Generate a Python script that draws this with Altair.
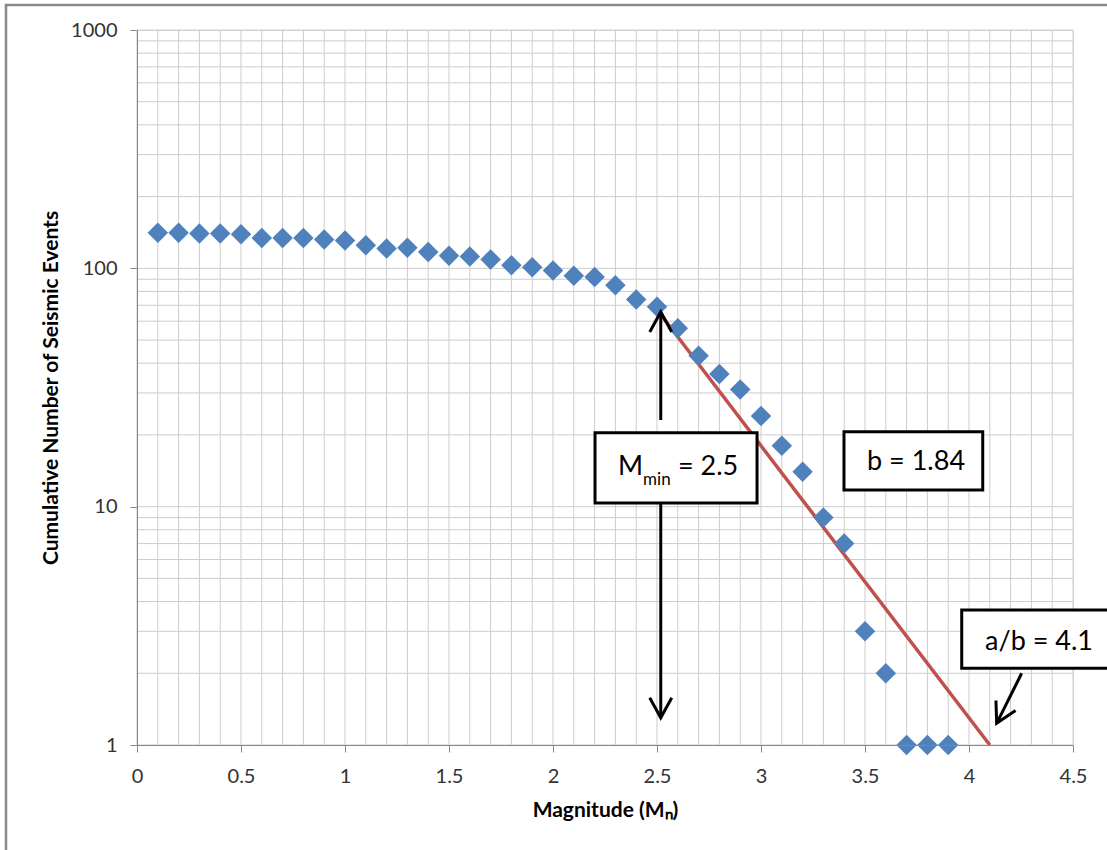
import altair as alt
import pandas as pd

# ---------------- data ----------------
magnitudes = [0.1, 0.2, 0.3, 0.4, 0.5, 0.6, 0.7, 0.8, 0.9, 1.0,
              1.1, 1.2, 1.3, 1.4, 1.5, 1.6, 1.7, 1.8, 1.9, 2.0,
              2.1, 2.2, 2.3, 2.4, 2.5, 2.6, 2.7, 2.8, 2.9, 3.0,
              3.1, 3.2, 3.3, 3.4, 3.5, 3.6, 3.7, 3.8, 3.9]
cum_counts = [141, 141, 140, 140, 139, 134, 134, 134, 132, 131,
              125, 121, 122, 117, 113, 112, 109, 103, 101, 98,
              93, 92, 85, 74, 69, 56, 43, 36, 31, 24,
              18, 14, 9, 7, 3, 2, 1, 1, 1]

fit_x = [2.5, 4.1]
fit_y = [67, 1]

x_tick_values = [0, 0.5, 1, 1.5, 2, 2.5, 3, 3.5, 4, 4.5]
y_tick_values = [1, 10, 100, 1000]
x_grid = [round(i * 0.1, 1) for i in range(0, 46)]
y_grid = [m * d for d in (1, 10, 100) for m in range(1, 10)] + [1000]

# annotation boxes (data coordinates)
box_x1 = [2.202, 3.399, 3.965]
box_x2 = [2.981, 4.066, 4.702]
box_y1 = [20.4, 20.6, 3.685]
box_y2 = [10.36, 11.75, 2.098]

# annotation texts
txt_x = [2.313, 2.433, 2.601, 3.510, 4.077]
txt_y = [13.58, 12.33, 13.58, 14.25, 2.504]
txt_s = ["M", "min", "= 2.5", "b = 1.84", "a/b = 4.1"]
txt_f = [27, 17, 27, 27, 27]

# arrow shafts
arr_x1 = [2.518, 2.518, 4.253]
arr_y1 = [23.1, 10.36, 2.0]
arr_x2 = [2.518, 2.518, 4.133]
arr_y2 = [65.6, 1.30, 1.233]
arr_ang = [0, 180, 207]

W, H = 936, 715
FONT = "Lato"

xs = alt.Scale(domain=[0, 4.5], nice=False, zero=False)
ys = alt.Scale(type="log", domain=[1, 1000], nice=False)

x_axis = alt.Axis(
    values=x_tick_values, format="~g", grid=False, title="Magnitude (Mₙ)",
    domainColor="#868686", tickColor="#868686", tickSize=7, zindex=1,
    labelFont=FONT, labelFontSize=20, labelColor="#333333", labelPadding=14,
    titleFont=FONT, titleFontSize=21, titleFontWeight="bold", titleColor="#000000",
    titlePadding=13, labelFlush=False)
y_axis = alt.Axis(
    values=y_tick_values, format="d", grid=False,
    title="Cumulative Number of Seismic Events",
    domainColor="#868686", tickColor="#868686", tickSize=7, zindex=1,
    labelFont=FONT, labelFontSize=20, labelColor="#333333", labelPadding=13,
    titleFont=FONT, titleFontSize=21, titleFontWeight="bold", titleColor="#000000",
    titlePadding=9, labelFlush=False)


def X(f):
    return alt.X(f, scale=xs, axis=x_axis)


def Y(f):
    return alt.Y(f, scale=ys, axis=y_axis)


df = pd.DataFrame({"m": magnitudes, "n": cum_counts})
fit = pd.DataFrame({"m": fit_x, "n": fit_y})
gx = pd.DataFrame({"g": x_grid})
gy = pd.DataFrame({"g": y_grid})
boxes = pd.DataFrame({"x1": box_x1, "x2": box_x2, "y1": box_y1, "y2": box_y2})
texts = pd.DataFrame({"x": txt_x, "y": txt_y, "t": txt_s, "f": txt_f})
arrows = pd.DataFrame({"x1": arr_x1, "y1": arr_y1, "x2": arr_x2, "y2": arr_y2, "a": arr_ang})

frame = alt.Chart(pd.DataFrame({"k": [0]})).mark_rect(
    fillOpacity=0, stroke="#898989", strokeWidth=2.5
).encode(x=alt.value(-131), x2=alt.value(1200), y=alt.value(-25), y2=alt.value(900))

grid_x = alt.Chart(gx).mark_rule(color="#cccccc", strokeWidth=1).encode(x=X("g:Q"))
grid_y = alt.Chart(gy).mark_rule(color="#cccccc", strokeWidth=1).encode(y=Y("g:Q"))

fit_line = alt.Chart(fit).mark_line(color="#c0504d", strokeWidth=3.5).encode(
    x=X("m:Q"), y=Y("n:Q")
)

points = alt.Chart(df).mark_point(
    shape="diamond", filled=True, size=420, color="#4f81bd", opacity=1
).encode(x=X("m:Q"), y=Y("n:Q"))

shafts = alt.Chart(arrows).mark_rule(color="black", strokeWidth=3).encode(
    x=X("x1:Q"), y=Y("y1:Q"), x2="x2:Q", y2="y2:Q"
)
heads = alt.Chart(arrows).mark_point(
    shape="M -0.55 1 L 0 0 L 0.55 1", filled=False, color="black",
    strokeWidth=3, size=1600, opacity=1
).encode(
    x=X("x2:Q"), y=Y("y2:Q"),
    angle=alt.Angle("a:Q", scale=None)
)

rects = alt.Chart(boxes).mark_rect(fill="white", stroke="black", strokeWidth=3).encode(
    x=X("x1:Q"), x2="x2:Q", y=Y("y1:Q"), y2="y2:Q"
)

labels = alt.Chart(texts).mark_text(
    align="left", baseline="alphabetic", font=FONT, color="black"
).encode(
    x=X("x:Q"), y=Y("y:Q"), text="t:N",
    size=alt.Size("f:Q", scale=None)
)

chart = alt.layer(
    frame, grid_x, grid_y, fit_line, points, shafts, heads, rects, labels
).properties(
    width=W, height=H,
    autosize=alt.AutoSizeParams(type="none"),
    padding={"left": 137, "top": 30, "right": 34, "bottom": 105},
).configure_view(stroke=None).configure(background="white")

chart.save("out.html", embed_options={"renderer": "svg", "actions": False})
